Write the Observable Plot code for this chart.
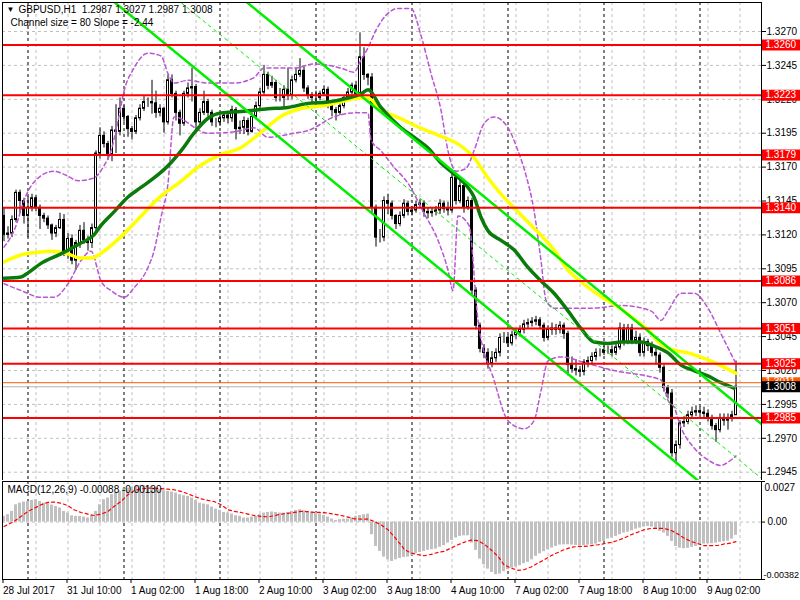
<!DOCTYPE html>
<html><head><meta charset="utf-8">
<script src="https://cdn.jsdelivr.net/npm/d3@7"></script>
<script src="https://cdn.jsdelivr.net/npm/@observablehq/plot@0.6"></script>
<style>
body{margin:0;background:#fff;}
#wrap{position:relative;width:800px;height:600px;overflow:hidden;background:#fff;}
#wrap svg{position:absolute;left:0;}
</style></head><body><div id="wrap"></div>
<script>
// ---------- DATA ----------
const firstOpen = 1.3134;
const closes = [1.3120,1.3121,1.3131,1.3151,1.3145,1.3134,1.3140,1.3147,1.3140,1.3134,
1.3132,1.3127,1.3121,1.3125,1.3131,1.3108,1.3117,1.3101,1.3114,1.3123,
1.3116,1.3114,1.3125,1.3180,1.3193,1.3187,1.3179,1.3197,1.3196,1.3213,
1.3207,1.3198,1.3196,1.3206,1.3213,1.3218,1.3218,1.3217,1.3210,1.3213,
1.3203,1.3234,1.3224,1.3210,1.3202,1.3224,1.3228,1.3229,1.3203,1.3210,
1.3218,1.3210,1.3203,1.3203,1.3206,1.3208,1.3206,1.3212,1.3198,1.3199,
1.3204,1.3196,1.3207,1.3215,1.3225,1.3238,1.3230,1.3232,1.3221,1.3221,
1.3227,1.3223,1.3234,1.3238,1.3241,1.3228,1.3223,1.3221,1.3221,1.3224,
1.3227,1.3217,1.3212,1.3210,1.3215,1.3221,1.3225,1.3230,1.3224,1.3251,
1.3238,1.3236,1.3140,1.3118,1.3118,1.3145,1.3143,1.3134,1.3128,1.3134,
1.3143,1.3137,1.3138,1.3142,1.3143,1.3137,1.3136,1.3137,1.3138,1.3143,
1.3139,1.3138,1.3162,1.3145,1.3156,1.3140,1.3145,1.3079,1.3053,1.3036,
1.3033,1.3025,1.3029,1.3033,1.3044,1.3044,1.3040,1.3046,1.3048,1.3050,
1.3054,1.3055,1.3056,1.3057,1.3053,1.3044,1.3050,1.3051,1.3050,1.3053,
1.3047,1.3024,1.3021,1.3020,1.3019,1.3026,1.3027,1.3030,1.3033,1.3033,
1.3035,1.3035,1.3033,1.3037,1.3051,1.3041,1.3051,1.3042,1.3044,1.3033,
1.3041,1.3038,1.3033,1.3031,1.3022,1.3007,1.3003,1.2959,1.2965,1.2981,
1.2982,1.2987,1.2989,1.2990,1.2989,1.2988,1.2985,1.2979,1.2976,1.2985,
1.2983,1.2985,1.2987,1.3008];
const highs = [1.3140,1.3126,1.3134,1.3153,1.3153,1.3147,1.3148,1.3150,1.3149,1.3142,
1.3136,1.3134,1.3128,1.3127,1.3136,1.3135,1.3121,1.3120,1.3116,1.3127,
1.3129,1.3119,1.3128,1.3182,1.3199,1.3196,1.3189,1.3200,1.3216,1.3221,
1.3215,1.3208,1.3200,1.3208,1.3216,1.3222,1.3221,1.3234,1.3226,1.3216,
1.3214,1.3238,1.3238,1.3226,1.3212,1.3226,1.3232,1.3243,1.3231,1.3213,
1.3226,1.3220,1.3212,1.3206,1.3209,1.3211,1.3209,1.3215,1.3214,1.3204,
1.3207,1.3206,1.3210,1.3218,1.3228,1.3245,1.3240,1.3237,1.3234,1.3228,
1.3230,1.3243,1.3237,1.3243,1.3250,1.3244,1.3230,1.3225,1.3226,1.3226,
1.3230,1.3229,1.3219,1.3214,1.3217,1.3223,1.3228,1.3232,1.3233,1.3269,
1.3258,1.3239,1.3239,1.3142,1.3124,1.3148,1.3150,1.3145,1.3135,1.3137,
1.3146,1.3145,1.3141,1.3145,1.3146,1.3145,1.3140,1.3140,1.3141,1.3146,
1.3145,1.3144,1.3166,1.3165,1.3160,1.3158,1.3148,1.3147,1.3081,1.3055,
1.3039,1.3036,1.3034,1.3036,1.3047,1.3048,1.3046,1.3049,1.3051,1.3053,
1.3057,1.3058,1.3059,1.3060,1.3059,1.3055,1.3053,1.3055,1.3054,1.3056,
1.3055,1.3049,1.3030,1.3028,1.3023,1.3028,1.3030,1.3033,1.3036,1.3036,
1.3038,1.3038,1.3038,1.3040,1.3055,1.3054,1.3054,1.3054,1.3049,1.3047,
1.3044,1.3043,1.3041,1.3036,1.3033,1.3024,1.3009,1.3006,1.2968,1.2983,
1.2986,1.2990,1.2993,1.2994,1.2993,1.2993,1.2991,1.2987,1.2981,1.2988,
1.2988,1.2988,1.2990,1.3027];
const lows = [1.3115,1.3117,1.3118,1.3129,1.3136,1.3128,1.3118,1.3137,1.3137,1.3124,
1.3129,1.3124,1.3116,1.3118,1.3124,1.3104,1.3102,1.3098,1.3094,1.3110,
1.3113,1.3108,1.3110,1.3122,1.3176,1.3184,1.3175,1.3174,1.3180,1.3193,
1.3203,1.3192,1.3190,1.3194,1.3204,1.3211,1.3214,1.3209,1.3206,1.3207,
1.3195,1.3201,1.3221,1.3204,1.3193,1.3200,1.3221,1.3218,1.3197,1.3200,
1.3208,1.3207,1.3200,1.3199,1.3200,1.3203,1.3202,1.3203,1.3190,1.3194,
1.3194,1.3193,1.3195,1.3205,1.3211,1.3223,1.3227,1.3228,1.3218,1.3218,
1.3213,1.3219,1.3220,1.3232,1.3236,1.3225,1.3220,1.3217,1.3218,1.3219,
1.3222,1.3213,1.3207,1.3204,1.3208,1.3213,1.3219,1.3223,1.3220,1.3222,
1.3234,1.3230,1.3136,1.3111,1.3114,1.3115,1.3135,1.3131,1.3124,1.3126,
1.3132,1.3134,1.3134,1.3136,1.3140,1.3133,1.3132,1.3133,1.3134,1.3135,
1.3136,1.3134,1.3136,1.3142,1.3143,1.3136,1.3138,1.3076,1.3050,1.3033,
1.3029,1.3021,1.3022,1.3026,1.3030,1.3040,1.3037,1.3038,1.3043,1.3045,
1.3047,1.3051,1.3052,1.3053,1.3050,1.3041,1.3042,1.3046,1.3046,1.3047,
1.3043,1.3016,1.3018,1.3016,1.3015,1.3016,1.3022,1.3024,1.3027,1.3030,
1.3031,1.3032,1.3030,1.3031,1.3035,1.3038,1.3039,1.3039,1.3039,1.3030,
1.3030,1.3034,1.3030,1.3024,1.3018,1.3004,1.2999,1.2956,1.2951,1.2962,
1.2978,1.2980,1.2985,1.2986,1.2986,1.2985,1.2982,1.2976,1.2967,1.2974,
1.2979,1.2976,1.2982,1.2987];

// moving averages (sampled along the lines)
const yellowIdx = [0,4,8,12,16,19,22,24,29,34,39,44,49,54,59,64,69,74,79,84,89,91,94,99,104,109,114,117.5,121,124,127.5,132.5,137.5,141,144,149,154,157.5,161,164,167.5,171,174,177.5,181,183];
const yellowVal = [1.3100,1.3105,1.3107,1.3108,1.3106,1.3103,1.3103,1.3106,1.3118,1.3133,1.3148,1.3159,1.3171,1.3179,1.3184,1.3195,1.3207,1.3213,1.3215,1.3218,1.3221,1.3221,1.3213,1.3206,1.3199,1.3193,1.3186,1.3177,1.3162,1.3151,1.3140,1.3125,1.3109,1.3094,1.3086,1.3075,1.3066,1.3058,1.3050,1.3040,1.3035,1.3033,1.3030,1.3026,1.3021,1.3018];
const greenIdx = [0,4.25,6,9.25,14.25,19.25,22.5,24.25,27.5,31,34.25,37.5,41,44.25,47.5,51,54.25,59.25,62.5,66,71,76,81,86,89.25,91,94.25,99.25,102.5,106,109.25,112.5,116,117.5,119.25,121,124.25,127.5,131,134.25,137.5,141,144.25,147.5,151,154.25,159.25,162.5,166,169.25,172.5,176,179.25,182.5];
const greenVal = [1.3088,1.3089,1.3092,1.3099,1.3106,1.3114,1.3120,1.3127,1.3137,1.3148,1.3155,1.3162,1.3171,1.3182,1.3195,1.3206,1.3210,1.3211,1.3212,1.3213,1.3214,1.3217,1.3218,1.3221,1.3224,1.3227,1.3214,1.3199,1.3192,1.3184,1.3173,1.3165,1.3155,1.3148,1.3133,1.3123,1.3116,1.3109,1.3096,1.3086,1.3077,1.3064,1.3051,1.3041,1.3040,1.3041,1.3041,1.3038,1.3033,1.3024,1.3020,1.3016,1.3011,1.3007];

// dashed purple bands
const upIdx = [0,2.5,5.5,10,12.5,15.5,18.5,22.5,25,26.75,28.5,30,32.5,36,39.25,41,42.5,46,51,57.5,62.5,65,72.5,77.5,84.25,87.5,89.25,91,93,95.5,98.5,101.75,104.25,106.75,109.25,111,113,115.5,117.5,120,122.5,126,128.5,130.5,132.5,134.25,135.5,137.5,147.5,154.25,161.75,164.25,166,169.25,172.5,176,179.25,183];
const upVal = [1.3111,1.3123,1.3149,1.3165,1.3167,1.3164,1.3160,1.3162,1.3171,1.3182,1.3204,1.3226,1.3243,1.3254,1.3252,1.3239,1.3232,1.3234,1.3232,1.3232,1.3236,1.3243,1.3243,1.3246,1.3243,1.3240,1.3249,1.3258,1.3271,1.3282,1.3287,1.3287,1.3267,1.3239,1.3212,1.3182,1.3167,1.3169,1.3182,1.3202,1.3207,1.3199,1.3182,1.3164,1.3138,1.3101,1.3072,1.3066,1.3066,1.3068,1.3064,1.3057,1.3064,1.3077,1.3077,1.3066,1.3047,1.3025];
const loIdx = [0,4.25,9.25,12.5,16,19.25,21.75,24.25,26.75,30,32.5,36,37.5,39.25,41,42.5,51,57.5,62.5,66,72.5,76,82.5,87.5,91,91.75,94.25,97.5,101,105,108.5,111,112.25,113.5,116.25,118.5,122.5,126,130,132.5,134.25,136,139.25,146,152.5,164.25,166,167.5,169.25,172.5,176,179.25,181.75,183];
const loVal = [1.3084,1.3079,1.3074,1.3074,1.3084,1.3101,1.3108,1.3086,1.3079,1.3074,1.3081,1.3096,1.3108,1.3133,1.3158,1.3207,1.3195,1.3196,1.3199,1.3192,1.3195,1.3197,1.3207,1.3210,1.3210,1.3190,1.3182,1.3170,1.3158,1.3136,1.3116,1.3094,1.3079,1.3134,1.3127,1.3057,1.3013,1.2983,1.2977,1.2983,1.3005,1.3027,1.3030,1.3025,1.3020,1.3013,1.2998,1.2993,1.2978,1.2963,1.2954,1.2950,1.2954,1.2957];

// regression channel (two end points per line)
const chanIdx = [20, 190];
const chanUpper = [1.3390, 1.2979];
const chanLower = [1.3310, 1.2899];
const chanMid = [1.3350, 1.2939];

// horizontal levels
const levels = [1.3260, 1.3223, 1.3179, 1.3140, 1.3086, 1.3051, 1.3025, 1.2985];
const askLevel = [1.3011];
const bidLevel = [1.3008];

// axes
const priceTicks = [1.3270,1.3245,1.3220,1.3195,1.3170,1.3145,1.3120,1.3095,1.3070,1.3045,1.3020,1.2995,1.2970,1.2945];
const gridIdx = [8,16,24,32,40,48,56,64,72,80,88,96,104,112,120,128,136,144,152,160,168,176,184];
const daySepIdx = [6,30,54,78,102,126,150,174];
const timeTickIdx = [0,16,32,48,64,80,96,112,128,144,160,176];
const timeLabels = ["28 Jul 2017","31 Jul 10:00","1 Aug 02:00","1 Aug 18:00","2 Aug 10:00","3 Aug 02:00","3 Aug 18:00","4 Aug 10:00","7 Aug 02:00","7 Aug 18:00","8 Aug 10:00","9 Aug 02:00"];

// MACD
const macdHist = [0.00038,0.00049,0.00071,0.00115,0.00126,0.00133,0.00137,0.00144,0.00149,0.00137,
0.00126,0.00122,0.00113,0.00104,0.00093,0.00071,0.00060,0.00042,0.00038,0.00038,
0.00033,0.00027,0.00042,0.00071,0.00115,0.00149,0.00160,0.00182,0.00193,0.00204,
0.00219,0.00226,0.00233,0.00237,0.00242,0.00242,0.00242,0.00237,0.00226,0.00215,
0.00208,0.00204,0.00200,0.00193,0.00182,0.00175,0.00171,0.00160,0.00144,0.00126,
0.00120,0.00115,0.00100,0.00086,0.00078,0.00064,0.00060,0.00053,0.00042,0.00038,
0.00027,0.00027,0.00033,0.00038,0.00049,0.00060,0.00064,0.00067,0.00064,0.00060,
0.00060,0.00064,0.00071,0.00078,0.00082,0.00075,0.00067,0.00067,0.00064,0.00055,
0.00044,0.00033,0.00020,0.00011,0.00016,0.00020,0.00020,0.00027,0.00038,0.00044,
0.00049,0.00053,-0.00084,-0.00162,-0.00195,-0.00233,-0.00251,-0.00262,-0.00251,-0.00242,
-0.00235,-0.00233,-0.00224,-0.00211,-0.00202,-0.00195,-0.00188,-0.00184,-0.00180,-0.00168,
-0.00157,-0.00140,-0.00122,-0.00106,-0.00095,-0.00091,-0.00091,-0.00140,-0.00188,-0.00246,
-0.00284,-0.00313,-0.00335,-0.00350,-0.00346,-0.00330,-0.00317,-0.00306,-0.00299,-0.00290,
-0.00277,-0.00268,-0.00251,-0.00228,-0.00211,-0.00197,-0.00184,-0.00173,-0.00162,-0.00153,
-0.00151,-0.00151,-0.00153,-0.00155,-0.00157,-0.00157,-0.00153,-0.00151,-0.00146,-0.00135,
-0.00129,-0.00113,-0.00106,-0.00095,-0.00084,-0.00073,-0.00067,-0.00058,-0.00047,-0.00040,
-0.00033,-0.00029,-0.00033,-0.00047,-0.00062,-0.00073,-0.00095,-0.00129,-0.00162,-0.00173,
-0.00177,-0.00175,-0.00168,-0.00162,-0.00151,-0.00146,-0.00144,-0.00144,-0.00140,-0.00135,
-0.00131,-0.00126,-0.00113,-0.00088];
const sigIdx = [0,2.5,6,9.25,11,12.5,14.25,16,17.5,19.25,21,22.5,24.25,26,27.5,29.25,31,32.5,34.25,36,37.5,39.25,41,42.5,44.25,46,47.5,49.25,51,52.5,54.25,56,57.5,59.25,61,62.5,64.25,66,67.5,69.25,71,72.5,74.25,76,77.5,79.25,81,82.5,84.25,86,87.5,89.25,91,92.5,94.25,96,97.5,98.5,99.25,100,101.75,103.5,105,106.75,108.5,110,111.75,113.5,115,116.75,118.5,120,121.75,123.5,125,126.75,128.5,130,131.75,133.5,135,136.75,138.5,140,141.75,143.5,145,146.75,148.5,150,151.75,153.5,155,156.75,158.5,160,161.75,163.5,165,166.75,168.5,170,171.75,173.5,175,176.75,178.5,180,181.75,183];
const sigVal = [-0.00029,0.00004,0.00071,0.00115,0.00131,0.00133,0.00126,0.00109,0.00082,0.00064,0.00053,0.00044,0.00053,0.00071,0.00104,0.00137,0.00182,0.00208,0.00222,0.00226,0.00226,0.00222,0.00219,0.00215,0.00204,0.00188,0.00171,0.00155,0.00144,0.00137,0.00115,0.00082,0.00071,0.00064,0.00053,0.00044,0.00038,0.00035,0.00042,0.00053,0.00058,0.00064,0.00071,0.00069,0.00064,0.00064,0.00060,0.00053,0.00044,0.00033,0.00022,0.00020,0.00020,0.00004,-0.00018,-0.00051,-0.00095,-0.00129,-0.00151,-0.00180,-0.00206,-0.00217,-0.00224,-0.00215,-0.00202,-0.00195,-0.00173,-0.00151,-0.00135,-0.00120,-0.00124,-0.00146,-0.00184,-0.00228,-0.00284,-0.00306,-0.00321,-0.00317,-0.00299,-0.00273,-0.00251,-0.00224,-0.00202,-0.00184,-0.00168,-0.00162,-0.00162,-0.00157,-0.00151,-0.00144,-0.00135,-0.00122,-0.00106,-0.00084,-0.00067,-0.00051,-0.00042,-0.00042,-0.00042,-0.00055,-0.00080,-0.00106,-0.00129,-0.00144,-0.00157,-0.00157,-0.00155,-0.00146,-0.00140,-0.00130];
const macdTicks = [0.0027, 0, -0.00382];
const macdTickLabels = ["0.0027", "0.00", "-0.00382"];

// texts
const headerSymbol = "GBPUSD,H1";
const headerOHLC = [1.2987, 1.3027, 1.2987, 1.3008];
const channelText = "Channel size = 80 Slope = -2.44";
const macdText = "MACD(12,26,9) -0.00088 -0.00130";

// ---------- DRAWING ----------
const FONT = "'Liberation Sans', Arial, sans-serif";
const xDomain = [-0.375, 189.375];
const yDomain = [1.293888, 1.329139];
const bars = closes.map((c, i) => ({i, open: i ? closes[i - 1] : firstOpen, close: c, high: highs[i], low: lows[i]}));
const fmt4 = d3.format(".4f");

const mainPlot = Plot.plot({
  width: 800, height: 481,
  marginTop: 2, marginBottom: 1, marginLeft: 2, marginRight: 39,
  x: {domain: xDomain, axis: null},
  y: {domain: yDomain, axis: null},
  style: {fontFamily: FONT, fontSize: "10px", color: "black", background: "white"},
  marks: [
    Plot.ruleY(priceTicks, {stroke: "#c0c0c0", strokeDasharray: "3,3"}),
    Plot.ruleX(gridIdx, {stroke: "#c0c0c0", strokeDasharray: "3,3"}),
    Plot.ruleX(daySepIdx, {stroke: "black", strokeDasharray: "3,3"}),
    Plot.ruleX(bars, {x: "i", y1: "low", y2: "high", stroke: "black"}),
    Plot.rect(bars, {x1: d => d.i - 0.375, x2: d => d.i + 0.375, y1: "open", y2: "close",
      fill: d => d.close >= d.open ? "white" : "black", stroke: "black", insetLeft: 0.5, insetRight: 0.5}),
    Plot.line(upVal, {x: upIdx, y: upVal, stroke: "#BA55D3", strokeDasharray: "4,3", curve: "monotone-x", clip: "frame"}),
    Plot.line(loVal, {x: loIdx, y: loVal, stroke: "#BA55D3", strokeDasharray: "4,3", curve: "monotone-x", clip: "frame"}),
    Plot.line(yellowVal, {x: yellowIdx, y: yellowVal, stroke: "#ffff00", strokeWidth: 3.5, curve: "monotone-x"}),
    Plot.line(greenVal, {x: greenIdx, y: greenVal, stroke: "#0a7a0a", strokeWidth: 3.5, curve: "monotone-x"}),
    Plot.line(chanUpper, {x: chanIdx, y: chanUpper, stroke: "#00ee00", strokeWidth: 2.5, clip: "frame"}),
    Plot.line(chanLower, {x: chanIdx, y: chanLower, stroke: "#00ee00", strokeWidth: 2.5, clip: "frame"}),
    Plot.line(chanMid, {x: chanIdx, y: chanMid, stroke: "#00ee00", strokeWidth: 1, strokeDasharray: "3,4", clip: "frame"}),
    Plot.ruleY(levels, {stroke: "red", strokeWidth: 2}),
    Plot.ruleY(askLevel, {stroke: "#ff5a00", strokeWidth: 1}),
    Plot.ruleY(bidLevel, {stroke: "#b0b0b0", strokeWidth: 1}),
    Plot.axisY(priceTicks, {anchor: "right", tickFormat: fmt4, tickSize: 4, tickPadding: 1, fontSize: 10}),
    Plot.ruleY(levels, {x1: xDomain[1], x2: xDomain[1] + 10, stroke: "red", strokeWidth: 11}),
    Plot.text(levels, {frameAnchor: "right", y: d => d, text: fmt4, dx: 4, textAnchor: "start", fill: "white"}),
    Plot.ruleY(askLevel, {x1: xDomain[1], x2: xDomain[1] + 10, stroke: "#ff5a00", strokeWidth: 11}),
    Plot.text(askLevel, {frameAnchor: "right", y: d => d, text: fmt4, dx: 4, dy: -1, textAnchor: "start", fill: "white"}),
    Plot.ruleY(bidLevel, {x1: xDomain[1], x2: xDomain[1] + 10, stroke: "black", strokeWidth: 11}),
    Plot.text(bidLevel, {frameAnchor: "right", y: d => d, text: fmt4, dx: 4, textAnchor: "start", fill: "white"}),
    Plot.frame({stroke: "black"}),
    Plot.text(["\u25BC"], {frameAnchor: "top-left", dx: 4, dy: 4, lineAnchor: "top", fontSize: 8, fill: "black"}),
    Plot.text([headerSymbol + "\u00A0\u00A0" + headerOHLC.map(fmt4).join(" ")], {frameAnchor: "top-left", dx: 16, dy: 3, lineAnchor: "top", fill: "black"}),
    Plot.text([channelText], {frameAnchor: "top-left", dx: 8, dy: 16, lineAnchor: "top", fill: "black"})
  ]
});
mainPlot.style.top = "0px";

const macdPlot = Plot.plot({
  width: 800, height: 120,
  marginTop: 1, marginBottom: 21, marginLeft: 2, marginRight: 39,
  x: {domain: xDomain, axis: null},
  y: {domain: [-0.00382, 0.0027], axis: null},
  style: {fontFamily: FONT, fontSize: "10px", color: "black", background: "white"},
  marks: [
    Plot.ruleY([0], {stroke: "#c0c0c0", strokeDasharray: "3,3"}),
    Plot.ruleX(gridIdx, {stroke: "#c0c0c0", strokeDasharray: "3,3"}),
    Plot.ruleX(daySepIdx, {stroke: "black", strokeDasharray: "3,3"}),
    Plot.rect(macdHist, {x1: (d, i) => i - 0.375, x2: (d, i) => i + 0.375, y1: 0, y2: d => d, fill: "#c0c0c0"}),
    Plot.line(sigVal, {x: sigIdx, y: sigVal, stroke: "red", strokeWidth: 1.2, strokeDasharray: "3,3"}),
    Plot.frame({stroke: "black"}),
    Plot.ruleY(macdTicks, {x1: xDomain[1], x2: xDomain[1] + 1, stroke: "black"}),
    Plot.text([macdTicks[0]], {frameAnchor: "right", y: d => d, text: () => macdTickLabels[0], dx: 3, dy: 2, lineAnchor: "top", textAnchor: "start"}),
    Plot.text([macdTicks[1]], {frameAnchor: "right", y: d => d, text: () => macdTickLabels[1], dx: 6, textAnchor: "start"}),
    Plot.text([macdTicks[2]], {frameAnchor: "right", y: d => d, text: () => macdTickLabels[2], dx: 2, dy: -2, lineAnchor: "bottom", textAnchor: "start", fontSize: 9}),
    Plot.axisX(timeTickIdx, {anchor: "bottom", tickSize: 4, tickPadding: 3, textAnchor: "start", dx: -1,
      tickFormat: d => timeLabels[timeTickIdx.indexOf(d)], fontSize: 10}),
    Plot.text([macdText], {frameAnchor: "top-left", dx: 5, dy: 4, lineAnchor: "top", fill: "black"})
  ]
});
macdPlot.style.top = "480px";

const wrap = document.getElementById("wrap");
wrap.appendChild(mainPlot);
wrap.appendChild(macdPlot);
</script>
</body></html>
